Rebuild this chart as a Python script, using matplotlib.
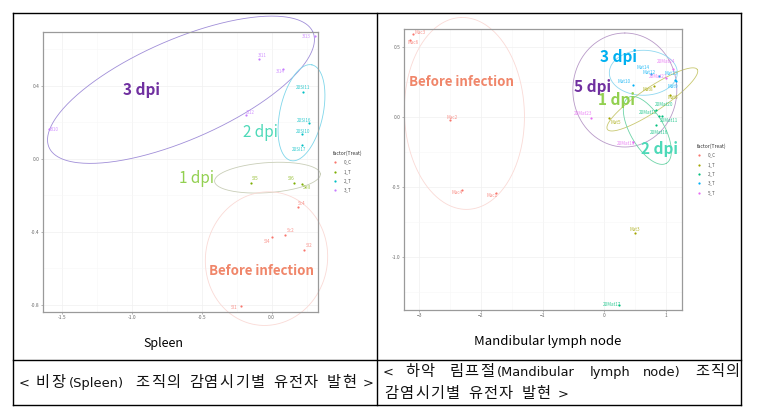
import numpy as np
import matplotlib
matplotlib.use("Agg")
import matplotlib.pyplot as plt
from matplotlib.lines import Line2D

plt.rcParams['font.family'] = ['Noto Sans CJK KR', 'DejaVu Sans']

W, H = 761, 408

# ---- spleen data ----
sp_groups = ['0_C', '1_T', '2_T', '3_T']
sp_colors = ['#F8766D', '#7CAE00', '#00BFC4', '#C77CFF']
sp_names = ['Sc4', 'Sc2', 'Sl4', 'SI2', 'SI1',
            'SI5', 'SI6', 'SeII',
            '20SI11', '20SI16', '20SI10', '20SI17',
            '3I10', '3I12', '3I11', '3I14', '3I13']
sp_x = [0.186, 0.095, 0.004, 0.231, -0.217,
        -0.150, 0.159, 0.219,
        0.226, 0.269, 0.214, 0.214,
        -1.591, -0.184, -0.089, 0.079, 0.309]
sp_y = [-0.265, -0.418, -0.431, -0.499, -0.805,
        -0.132, -0.132, -0.140,
        0.367, 0.196, 0.134, 0.075,
        0.163, 0.240, 0.546, 0.492, 0.671]
sp_treat = ['0_C'] * 5 + ['1_T'] * 3 + ['2_T'] * 4 + ['3_T'] * 5

# ---- mandibular lymph node data ----
ml_groups = ['0_C', '1_T', '2_T', '3_T', '5_T']
ml_colors = ['#F8766D', '#A3A500', '#00BF7D', '#00B0F6', '#E76BF3']
ml_names = ['Mac3', 'Mac6', 'Mac2', 'Mac4', 'Mac1',
            'Mat8', 'Mat6', 'Mat5', 'Mat3',
            '20Mat20', '20Mat15', '20Mat11', '20Mat16', '20Mat17',
            'Mat14', 'Mat12', 'Mat10', 'Mat13', 'Mat9',
            '20Mat24', '20Mat21', '20Mat23', '20Mat19']
ml_x = [-3.10, -3.15, -2.51, -2.30, -1.76,
        0.81, 1.07, 0.08, 0.49,
        0.83, 0.89, 0.94, 0.84, 0.23,
        0.76, 0.88, 0.47, 1.14, 1.16,
        1.12, 1.00, -0.21, 0.46]
ml_y = [0.59, 0.55, -0.02, -0.52, -0.54,
        0.22, 0.16, -0.01, -0.83,
        0.05, 0.01, 0.005, -0.06, -1.34,
        0.305, 0.296, 0.226, 0.262, 0.255,
        0.345, 0.28, -0.004, -0.18]
ml_treat = ['0_C'] * 5 + ['1_T'] * 4 + ['2_T'] * 5 + ['3_T'] * 5 + ['5_T'] * 4

caption_left = '< 비장(Spleen) 조직의 감염시기별 유전자 발현 >'
caption_right = ['< 하악 림프절(Mandibular lymph node) 조직의', '감염시기별 유전자 발현 >']


def px2fig(x, y):
    return x / W, 1 - y / H


def draw_ellipse(ax, cx, cy, a, b, ang, color, lw=0.6):
    # a, b in output pixels, angle in degrees, centre in data units
    c = ax.transData.transform((cx, cy))
    t = np.linspace(0, 2 * np.pi, 300)
    th = np.deg2rad(ang)
    px = c[0] + a * np.cos(t) * np.cos(th) - b * np.sin(t) * np.sin(th)
    py = c[1] + a * np.cos(t) * np.sin(th) + b * np.sin(t) * np.cos(th)
    pts = ax.transData.inverted().transform(np.column_stack([px, py]))
    ax.plot(pts[:, 0], pts[:, 1], color=color, lw=lw, clip_on=False, zorder=1)


def style_axes(ax):
    for s in ax.spines.values():
        s.set_color('#9A9A9A')
        s.set_linewidth(0.9)
    ax.tick_params(labelsize=3.5, colors='#9A9A9A', labelcolor='#6A6A6A',
                   length=1.5, width=0.5, pad=1)
    ax.grid(True, color='#F0F0F0', lw=0.5)
    ax.set_axisbelow(True)


def scatter_groups(ax, xs, ys, names, treat, groups, colors, dx, dy):
    for g, col in zip(groups, colors):
        idx = [i for i, t in enumerate(treat) if t == g]
        ax.scatter([xs[i] for i in idx], [ys[i] for i in idx], s=2.5, color=col,
                   zorder=3, linewidths=0)
        for i in idx:
            ax.annotate(names[i], (xs[i], ys[i]), xytext=(dx[i], dy[i]),
                        textcoords='offset points', fontsize=3.3, color=col,
                        ha='center', va='center', zorder=4, alpha=0.8)


def legend(fig, x, y, groups, colors):
    fig.text(*px2fig(x - 8, y), 'factor(Treat)', fontsize=3.6, color='#333333',
             va='center')
    for k, (g, c) in enumerate(zip(groups, colors)):
        yy = y + 9.3 * (k + 1)
        fig.add_artist(Line2D([px2fig(x - 6, yy)[0]], [px2fig(x - 6, yy)[1]],
                              marker='o', ms=1.6, color=c, mec='none', ls=''))
        fig.text(*px2fig(x + 3, yy), g, fontsize=3.3, color='#555555', va='center')


def fixed_text(fig, x0, y, s, unit, space=None):
    # hangul on a fixed grid (like the monospaced caption font), latin in runs
    base = y + 5
    x = x0
    run = ''

    def flush(x_end):
        if run:
            fig.text(*px2fig(x_end - len(run) * unit / 2, base), run, fontsize=9.4,
                     family='DejaVu Sans', ha='center', va='baseline',
                     color='#111111')

    for ch in s:
        if ch == ' ':
            flush(x)
            run = ''
            x += unit if space is None else space
        elif ord(ch) > 0x1100:
            flush(x)
            run = ''
            fig.text(*px2fig(x + unit, base), ch, fontsize=11,
                     ha='center', va='baseline', color='#111111')
            x += 2 * unit
        else:
            run += ch
            x += unit
    flush(x)


fig = plt.figure(figsize=(W / 100, H / 100), dpi=100)

# ---------- spleen panel ----------
ax1 = fig.add_axes([42.7 / W, 1 - 311.7 / H, 275.3 / W, 279.4 / H])
ax1.set_xlim(-1.636, 0.331)
ax1.set_ylim(-0.838, 0.694)
ax1.set_xticks([-1.5, -1.0, -0.5, 0.0])
ax1.set_xticklabels(['-1.5', '-1.0', '-0.5', '0.0'])
ax1.set_yticks([-0.8, -0.4, 0.0, 0.4])
ax1.set_yticklabels(['-0.8', '-0.4', '0.0', '0.4'])
ax1.set_xticks([-1.25, -0.75, -0.25, 0.25], minor=True)
ax1.set_yticks([-0.6, -0.2, 0.2, 0.6], minor=True)
ax1.tick_params(which='minor', length=0)
ax1.grid(True, which='minor', color='#F7F7F7', lw=0.4)
style_axes(ax1)

sp_dx = [3, 4, -4, 4, -5, 3, -2, 3, 0, -4, 1, -2, 4, 3, 2, -2, -6]
sp_dy = [3, 3, -3, 3, -1, 3, 3, -2, 3, 2, 2, -3, 0, 2, 3, -2, 0]
scatter_groups(ax1, sp_x, sp_y, sp_names, sp_treat, sp_groups, sp_colors, sp_dx, sp_dy)

draw_ellipse(ax1, -0.648, 0.379, 144, 50, 23.6, '#A08ED8')
draw_ellipse(ax1, 0.213, 0.253, 49, 21.5, 77.7, '#7FD6EA')
draw_ellipse(ax1, -0.030, -0.103, 53, 15, 4, '#C9CEB8')
draw_ellipse(ax1, -0.037, -0.547, 67, 61, 80, '#FADAD6')

ax1.text(-0.93, 0.378, '3 dpi', color='#7030A0', fontsize=11, fontweight='bold',
         ha='center', va='center')
ax1.text(-0.083, 0.146, '2 dpi', color='#4DD9B8', fontsize=11,
         ha='center', va='center')
ax1.text(-0.54, -0.11, '1 dpi', color='#92D050', fontsize=11,
         ha='center', va='center')
ax1.text(-0.071, -0.614, 'Before infection', color='#F0866A', fontsize=9.6,
         fontweight='bold', ha='center', va='center')

legend(fig, 341, 153, sp_groups, sp_colors)
fig.text(*px2fig(163, 343), 'Spleen', fontsize=9, ha='center', va='center')

# ---------- mandibular lymph node panel ----------
ax2 = fig.add_axes([404 / W, 1 - 310 / H, 277.7 / W, 280.7 / H])
ax2.set_xlim(-3.248, 1.254)
ax2.set_ylim(-1.376, 0.626)
ax2.set_xticks([-3, -2, -1, 0, 1])
ax2.set_yticks([-1.0, -0.5, 0.0, 0.5])
ax2.set_yticklabels(['-1.0', '-0.5', '0.0', '0.5'])
ax2.set_xticks([-2.5, -1.5, -0.5, 0.5], minor=True)
ax2.set_yticks([-1.25, -0.75, -0.25, 0.25], minor=True)
ax2.tick_params(which='minor', length=0)
ax2.grid(True, which='minor', color='#F7F7F7', lw=0.4)
style_axes(ax2)

ml_dx = [5, 2, 2, -4, -3, -5, 2, 5, 0, 6, -8, 5, 2, -5, -6, -7, -7, -3, -2, -5, -6, -6, -5]
ml_dy = [1, -2, 2, -2, -2, -2, -2, -3, 3, 4, 2, -3, -5, 0, 5, 2, 3, 5, -4, 5, 1, 3, -1]
scatter_groups(ax2, ml_x, ml_y, ml_names, ml_treat, ml_groups, ml_colors, ml_dx, ml_dy)

draw_ellipse(ax2, -2.269, 0.026, 96, 60, 92, '#FADAD6')
draw_ellipse(ax2, 0.332, 0.193, 57, 52, 90, '#B89AC8')
draw_ellipse(ax2, 0.632, 0.316, 34, 22.5, 0, '#8FD8F0')
draw_ellipse(ax2, 0.778, 0.126, 54, 12, 33.7, '#C8C870')
draw_ellipse(ax2, 0.697, -0.095, 38, 17, -60, '#6ED4A8')

ax2.text(-2.323, 0.25, 'Before infection', color='#F0866A', fontsize=9.6,
         fontweight='bold', ha='center', va='center')
ax2.text(0.232, 0.429, '3 dpi', color='#00B0F0', fontsize=11, fontweight='bold',
         ha='center', va='center')
ax2.text(-0.19, 0.214, '5 dpi', color='#7030A0', fontsize=11, fontweight='bold',
         ha='center', va='center')
ax2.text(0.19, 0.119, '1 dpi', color='#92D050', fontsize=11, fontweight='bold',
         ha='center', va='center')
ax2.text(0.891, -0.226, '2 dpi', color='#4DD9B8', fontsize=11, fontweight='bold',
         ha='center', va='center')

legend(fig, 705, 146, ml_groups, ml_colors)
fig.text(*px2fig(548, 341), 'Mandibular lymph node', fontsize=9.5,
         ha='center', va='center')

# ---------- table frame and captions ----------
def hline(y, x0, x1, lw=1.0):
    a, b = px2fig(x0, y)
    c, d = px2fig(x1, y)
    fig.add_artist(Line2D([a, c], [b, d], color='black', lw=lw))


def vline(x, y0, y1, lw=1.0):
    a, b = px2fig(x, y0)
    c, d = px2fig(x, y1)
    fig.add_artist(Line2D([a, c], [b, d], color='black', lw=lw))


hline(12.5, 12.5, 741)
hline(360, 12.5, 741)
hline(405, 12.5, 741)
vline(12.5, 12.5, 405)
vline(376.5, 12.5, 405)
vline(741, 12.5, 405)

fixed_text(fig, 20, 382, caption_left, 7.65)
fixed_text(fig, 384, 371, caption_right[0], 7.6, space=13.4)
fixed_text(fig, 384, 393, caption_right[1], 7.6)

fig.savefig('out.png', dpi=100)
